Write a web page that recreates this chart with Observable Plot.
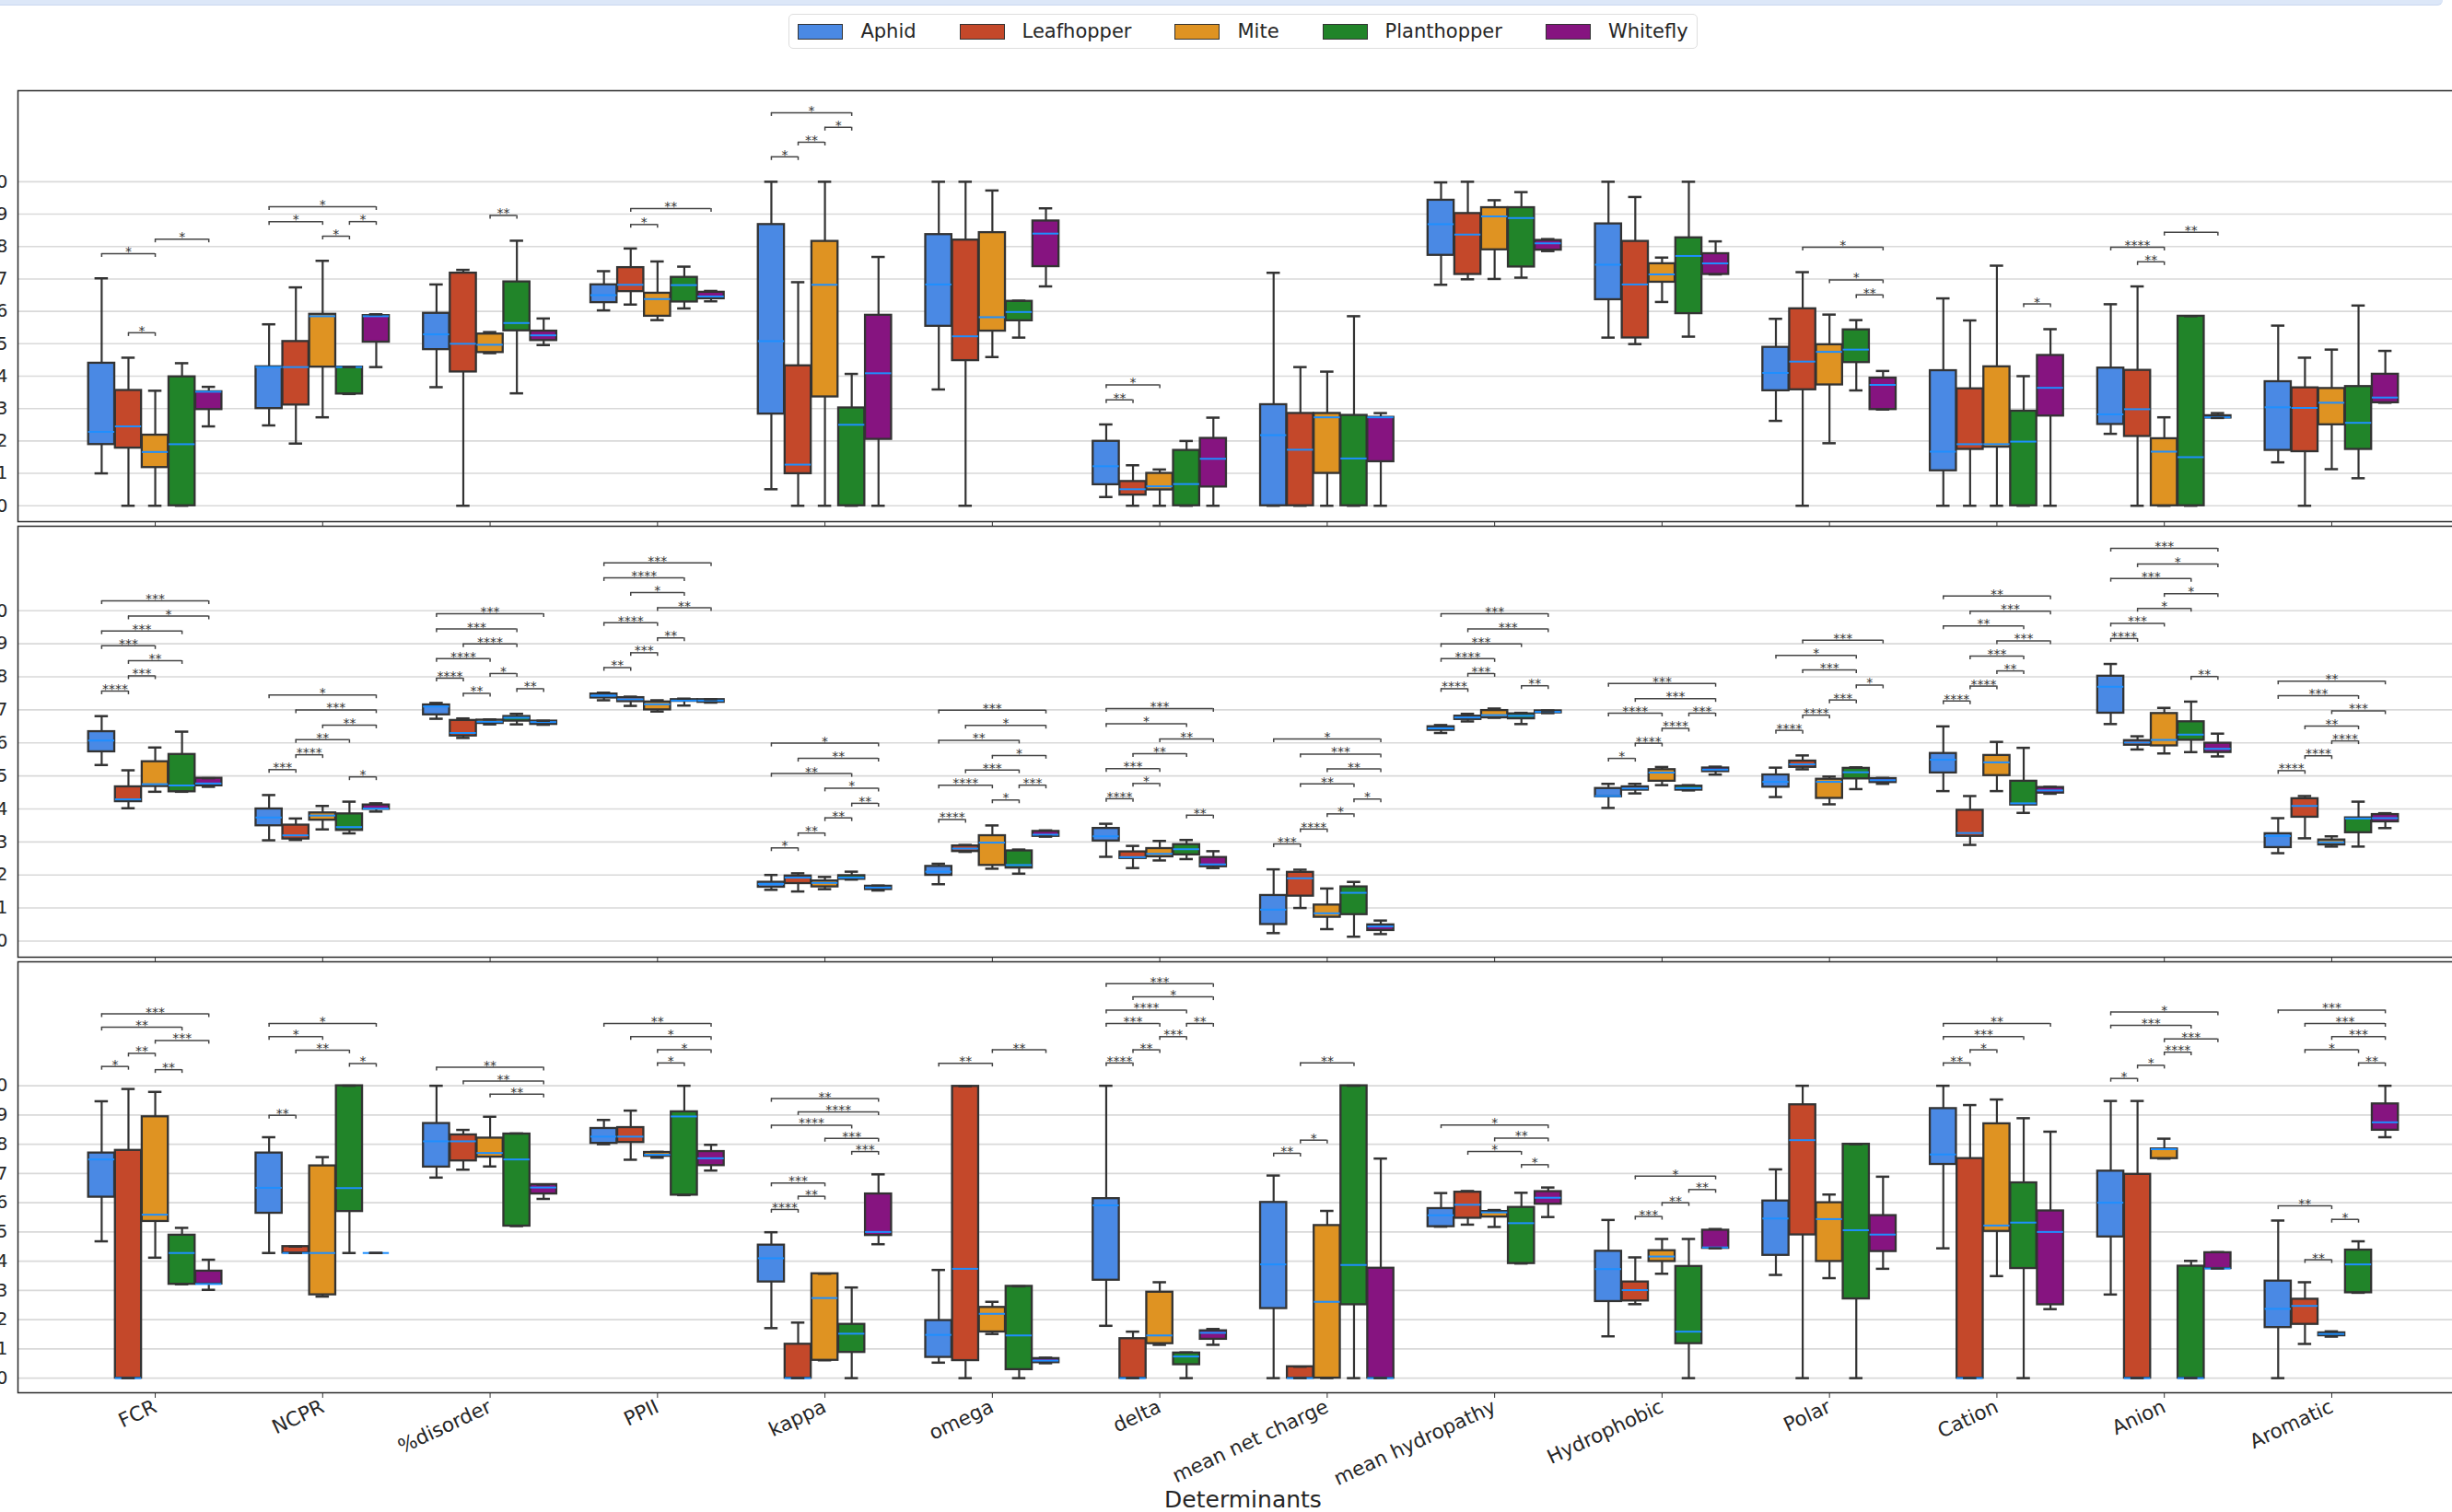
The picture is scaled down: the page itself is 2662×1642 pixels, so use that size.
<!DOCTYPE html>
<html><head><meta charset="utf-8">
<script src="https://cdn.jsdelivr.net/npm/d3@7"></script>
<script src="https://cdn.jsdelivr.net/npm/@observablehq/plot@0.6"></script>
<style>
html,body{margin:0;padding:0;background:#fff;overflow:hidden;}
#page{position:relative;width:2662px;height:1642px;overflow:hidden;background:#fff;font-family:"DejaVu Sans",sans-serif;color:#262626;}
#topbar{position:absolute;left:0;top:0;width:2652px;height:5px;background:#dce7f8;border-bottom:1px solid #c9d7ef;border-bottom-right-radius:10px;}
#legend{position:absolute;top:15px;left:0;width:2699px;display:flex;justify-content:center;}
#legend .box{display:flex;align-items:center;height:36px;padding:0 9px;border:1.5px solid #dedede;border-radius:5px;background:#fff;}
#legend .item{display:flex;align-items:center;margin-right:47px;font-size:21px;line-height:1;}
#legend .item:last-child{margin-right:0;}
#legend .sw{width:47px;height:15px;border:1px solid #333;margin-right:19px;}
.panel{position:absolute;left:0;}
#xlabel{position:absolute;left:0;top:1616px;width:2699px;text-align:center;font-size:25px;line-height:1;color:#262626;}
</style></head>
<body><div id="page"><div id="topbar"></div><div id="legend"></div><div id="xlabel">Determinants</div></div>
<script>
const determinants = ["FCR","NCPR","%disorder","PPII","kappa","omega","delta","mean net charge","mean hydropathy","Hydrophobic","Polar","Cation","Anion","Aromatic"];
const species = ["Aphid","Leafhopper","Mite","Planthopper","Whitefly"];
const speciesCode = {A:0, L:1, M:2, P:3, W:4};
const speciesColors = ["#4a89e4","#c4482a","#df9322","#218429","#861480"];
const yTicks = [0,0.1,0.2,0.3,0.4,0.5,0.6,0.7,0.8,0.9,1.0];

// five-number summaries [whisker low, Q1, median, Q3, whisker high]; per determinant, species order A L M P W
const panel1Stats = [
  [[0.10,0.189,0.228,0.44,0.702],[0,0.178,0.245,0.356,0.457],[0,0.118,0.166,0.218,0.355],[0,0,0.19,0.398,0.44],[0.245,0.297,0.352,0.352,0.367]],
  [[0.248,0.30,0.428,0.429,0.56],[0.192,0.311,0.428,0.507,0.674],[0.273,0.428,0.585,0.591,0.756],[0.345,0.345,0.428,0.428,0.428],[0.428,0.505,0.585,0.587,0.591]],
  [[0.366,0.482,0.529,0.594,0.683],[0,0.413,0.50,0.718,0.728],[0.471,0.473,0.497,0.53,0.536],[0.347,0.54,0.564,0.691,0.818],[0.496,0.51,0.526,0.539,0.578]],
  [[0.603,0.627,0.65,0.682,0.724],[0.621,0.661,0.682,0.735,0.794],[0.573,0.585,0.638,0.656,0.754],[0.609,0.629,0.681,0.705,0.738],[0.631,0.639,0.646,0.659,0.663]],
  [[0.051,0.283,0.508,0.868,1.0],[0,0.099,0.127,0.432,0.69],[0,0.336,0.682,0.816,1.0],[0,0,0.25,0.302,0.407],[0,0.205,0.409,0.588,0.768]],
  [[0.359,0.554,0.683,0.837,1.0],[0,0.448,0.523,0.82,1.0],[0.459,0.539,0.582,0.843,0.973],[0.519,0.571,0.598,0.631,0.633],[0.677,0.738,0.84,0.879,0.918]],
  [[0.027,0.065,0.122,0.199,0.251],[0,0.033,0.051,0.075,0.125],[0,0.049,0.06,0.10,0.112],[0,0,0.067,0.171,0.20],[0,0.058,0.145,0.208,0.272]],
  [[0,0,0.218,0.312,0.719],[0,0,0.173,0.285,0.428],[0,0.10,0.273,0.285,0.414],[0,0,0.146,0.279,0.585],[0,0.136,0.273,0.273,0.286]],
  [[0.682,0.773,0.869,0.943,0.998],[0.699,0.714,0.837,0.902,1.0],[0.70,0.79,0.893,0.92,0.943],[0.704,0.737,0.888,0.92,0.968],[0.786,0.789,0.81,0.819,0.823]],
  [[0.519,0.636,0.744,0.87,1.0],[0.499,0.518,0.683,0.816,0.953],[0.629,0.69,0.714,0.747,0.766],[0.522,0.593,0.771,0.827,1.0],[0.714,0.714,0.748,0.778,0.816]],
  [[0.262,0.355,0.41,0.489,0.577],[0,0.358,0.445,0.608,0.721],[0.193,0.373,0.475,0.497,0.59],[0.356,0.442,0.482,0.543,0.573],[0.297,0.297,0.373,0.394,0.416]],
  [[0,0.108,0.167,0.417,0.64],[0,0.174,0.19,0.361,0.572],[0,0.181,0.19,0.429,0.741],[0,0,0.198,0.292,0.40],[0,0.277,0.364,0.464,0.545]],
  [[0.222,0.251,0.282,0.425,0.622],[0,0.214,0.298,0.418,0.677],[0,0,0.167,0.207,0.273],[0,0,0.15,0.585,0.585],[0.271,0.271,0.273,0.278,0.286]],
  [[0.134,0.171,0.304,0.383,0.556],[0,0.167,0.302,0.364,0.457],[0.113,0.25,0.318,0.362,0.482],[0.085,0.174,0.256,0.368,0.618],[0.318,0.318,0.334,0.406,0.478]]
];
const panel2Stats = [
  [[0.533,0.573,0.607,0.634,0.681],[0.402,0.422,0.429,0.467,0.517],[0.452,0.468,0.475,0.543,0.586],[0.452,0.452,0.471,0.565,0.634],[0.467,0.47,0.477,0.493,0.493]],
  [[0.305,0.349,0.374,0.40,0.442],[0.306,0.309,0.32,0.351,0.371],[0.338,0.366,0.38,0.388,0.409],[0.326,0.335,0.345,0.385,0.422],[0.392,0.399,0.401,0.412,0.417]],
  [[0.673,0.685,0.71,0.715,0.721],[0.615,0.621,0.63,0.668,0.674],[0.656,0.659,0.664,0.669,0.671],[0.656,0.666,0.676,0.68,0.688],[0.655,0.656,0.663,0.666,0.667]],
  [[0.729,0.736,0.743,0.748,0.752],[0.712,0.725,0.732,0.737,0.74],[0.695,0.70,0.717,0.724,0.729],[0.713,0.726,0.728,0.731,0.734],[0.722,0.723,0.728,0.731,0.732]],
  [[0.155,0.163,0.173,0.178,0.20],[0.15,0.174,0.192,0.197,0.205],[0.157,0.164,0.176,0.182,0.194],[0.186,0.187,0.192,0.198,0.21],[0.153,0.156,0.162,0.166,0.168]],
  [[0.172,0.199,0.21,0.226,0.234],[0.27,0.271,0.28,0.288,0.291],[0.219,0.229,0.298,0.319,0.35],[0.204,0.221,0.23,0.273,0.277],[0.316,0.317,0.322,0.332,0.335]],
  [[0.255,0.303,0.317,0.341,0.355],[0.221,0.25,0.254,0.27,0.288],[0.244,0.255,0.264,0.28,0.303],[0.248,0.261,0.278,0.292,0.306],[0.221,0.225,0.232,0.253,0.272]],
  [[0.024,0.05,0.095,0.138,0.217],[0.10,0.136,0.19,0.208,0.216],[0.036,0.072,0.084,0.109,0.159],[0.013,0.08,0.146,0.164,0.179],[0.021,0.032,0.044,0.049,0.062]],
  [[0.63,0.638,0.644,0.649,0.654],[0.665,0.671,0.677,0.681,0.688],[0.676,0.676,0.684,0.698,0.704],[0.657,0.673,0.682,0.688,0.691],[0.690,0.691,0.694,0.697,0.698]],
  [[0.403,0.437,0.439,0.462,0.476],[0.447,0.457,0.462,0.467,0.476],[0.472,0.484,0.51,0.519,0.527],[0.456,0.457,0.463,0.469,0.472],[0.504,0.513,0.519,0.524,0.528]],
  [[0.436,0.466,0.482,0.503,0.525],[0.52,0.526,0.535,0.545,0.562],[0.414,0.432,0.482,0.49,0.498],[0.46,0.491,0.511,0.523,0.526],[0.476,0.48,0.487,0.492,0.494]],
  [[0.454,0.509,0.549,0.568,0.65],[0.291,0.317,0.327,0.396,0.439],[0.454,0.501,0.541,0.562,0.603],[0.388,0.412,0.417,0.484,0.585],[0.446,0.448,0.456,0.465,0.467]],
  [[0.657,0.69,0.77,0.802,0.839],[0.58,0.593,0.601,0.607,0.62],[0.568,0.591,0.609,0.689,0.706],[0.572,0.608,0.625,0.664,0.725],[0.559,0.571,0.582,0.599,0.628]],
  [[0.266,0.283,0.318,0.325,0.372],[0.311,0.375,0.409,0.431,0.439],[0.286,0.291,0.299,0.306,0.317],[0.286,0.328,0.371,0.373,0.422],[0.342,0.361,0.372,0.383,0.387]]
];
const panel3Stats = [
  [[0.468,0.619,0.748,0.77,0.947],[0,0,0,0.779,0.989],[0.412,0.536,0.559,0.894,0.979],[0.321,0.321,0.428,0.489,0.514],[0.302,0.322,0.322,0.366,0.405]],
  [[0.428,0.564,0.651,0.77,0.824],[0.428,0.428,0.428,0.45,0.45],[0.279,0.285,0.428,0.726,0.756],[0.428,0.57,0.65,1.0,1.0],[0.428,0.428,0.428,0.428,0.428]],
  [[0.686,0.722,0.81,0.871,1.0],[0.713,0.743,0.81,0.832,0.849],[0.724,0.756,0.77,0.821,0.894],[0.52,0.52,0.748,0.835,0.837],[0.613,0.63,0.652,0.662,0.662]],
  [[0.80,0.803,0.826,0.854,0.883],[0.747,0.806,0.826,0.857,0.915],[0.754,0.759,0.764,0.772,0.774],[0.626,0.626,0.895,0.911,1.0],[0.71,0.727,0.752,0.775,0.798]],
  [[0.171,0.329,0.41,0.455,0.499],[0,0,0,0.116,0.19],[0.061,0.061,0.274,0.357,0.357],[0,0.088,0.152,0.184,0.31],[0.458,0.488,0.50,0.63,0.697]],
  [[0.053,0.071,0.148,0.197,0.37],[0,0.06,0.374,0.998,0.998],[0.151,0.158,0.22,0.242,0.261],[0,0.029,0.146,0.314,0.314],[0.051,0.053,0.06,0.067,0.07]],
  [[0.179,0.335,0.591,0.614,1.0],[0,0,0,0.135,0.159],[0.114,0.118,0.146,0.294,0.328],[0,0.046,0.074,0.086,0.088],[0.114,0.133,0.155,0.162,0.168]],
  [[0,0.238,0.389,0.601,0.693],[0,0,0,0.039,0.039],[0,0,0.261,0.522,0.572],[0,0.251,0.387,1.0,1.0],[0,0,0,0.376,0.751]],
  [[0.518,0.518,0.557,0.58,0.633],[0.525,0.547,0.593,0.636,0.64],[0.517,0.551,0.567,0.57,0.575],[0.392,0.392,0.53,0.584,0.634],[0.551,0.595,0.617,0.638,0.652]],
  [[0.143,0.262,0.373,0.434,0.541],[0.253,0.264,0.301,0.329,0.413],[0.357,0.399,0.416,0.436,0.476],[0,0.118,0.159,0.382,0.476],[0.444,0.444,0.447,0.506,0.51]],
  [[0.353,0.42,0.546,0.606,0.714],[0,0.49,0.814,0.935,1.0],[0.342,0.399,0.544,0.60,0.628],[0,0.271,0.506,0.80,0.80],[0.374,0.433,0.491,0.556,0.689]],
  [[0.444,0.731,0.765,0.922,1.0],[0,0,0,0.751,0.934],[0.349,0.502,0.522,0.87,0.953],[0,0.375,0.532,0.668,0.889],[0.236,0.251,0.50,0.572,0.843]],
  [[0.286,0.483,0.60,0.708,0.948],[0,0,0,0.697,0.948],[0.751,0.751,0.783,0.784,0.819],[0,0,0,0.383,0.401],[0.375,0.375,0.375,0.429,0.431]],
  [[0,0.173,0.237,0.332,0.539],[0.117,0.184,0.247,0.27,0.328],[0.142,0.145,0.151,0.155,0.16],[0.292,0.292,0.389,0.438,0.468],[0.824,0.848,0.875,0.938,1.0]]
];

// significance brackets: [determinant, from species, to species, height, label]
const panel1Brackets = [
  ["FCR","A","M",0.778,"*"],["FCR","M","W",0.823,"*"],["FCR","L","M",0.534,"*"],
  ["NCPR","A","W",0.923,"*"],["NCPR","A","M",0.877,"*"],["NCPR","P","W",0.877,"*"],["NCPR","M","P",0.832,"*"],
  ["%disorder","M","P",0.896,"**"],
  ["PPII","L","W",0.917,"**"],["PPII","L","M",0.868,"*"],
  ["kappa","A","P",1.213,"*"],["kappa","M","P",1.168,"*"],["kappa","L","M",1.122,"**"],["kappa","A","L",1.077,"*"],
  ["delta","A","M",0.373,"*"],["delta","A","L",0.327,"**"],
  ["Polar","L","W",0.798,"*"],["Polar","M","W",0.697,"*"],["Polar","P","W",0.651,"**"],
  ["Cation","P","W",0.623,"*"],
  ["Anion","A","M",0.798,"****"],["Anion","L","M",0.753,"**"],["Anion","M","W",0.844,"**"]
];
const panel2Brackets = [
  ["FCR","A","W",1.03,"***"],["FCR","L","W",0.984,"*"],["FCR","A","P",0.939,"***"],["FCR","A","M",0.894,"***"],["FCR","L","P",0.849,"**"],["FCR","L","M",0.803,"***"],["FCR","A","L",0.757,"****"],
  ["NCPR","A","W",0.745,"*"],["NCPR","L","W",0.70,"***"],["NCPR","M","W",0.654,"**"],["NCPR","L","P",0.61,"**"],["NCPR","L","M",0.564,"****"],["NCPR","A","L",0.519,"***"],["NCPR","P","W",0.497,"*"],
  ["%disorder","A","W",0.991,"***"],["%disorder","A","P",0.945,"***"],["%disorder","L","P",0.90,"****"],["%disorder","A","M",0.855,"****"],["%disorder","M","P",0.81,"*"],["%disorder","A","L",0.796,"****"],["%disorder","P","W",0.764,"**"],["%disorder","L","M",0.75,"**"],
  ["PPII","A","W",1.145,"***"],["PPII","A","P",1.10,"****"],["PPII","L","P",1.055,"*"],["PPII","M","W",1.009,"**"],["PPII","A","M",0.964,"****"],["PPII","M","P",0.918,"**"],["PPII","L","M",0.873,"***"],["PPII","A","L",0.828,"**"],
  ["kappa","A","W",0.599,"*"],["kappa","L","W",0.553,"**"],["kappa","A","P",0.507,"**"],["kappa","M","W",0.463,"*"],["kappa","P","W",0.417,"**"],["kappa","M","P",0.373,"**"],["kappa","L","M",0.327,"**"],["kappa","A","L",0.282,"*"],
  ["omega","A","W",0.699,"***"],["omega","L","W",0.653,"*"],["omega","A","P",0.608,"**"],["omega","M","W",0.562,"*"],["omega","L","P",0.518,"***"],["omega","A","M",0.472,"****"],["omega","P","W",0.472,"***"],["omega","M","P",0.427,"*"],["omega","A","L",0.368,"****"],
  ["delta","A","W",0.704,"***"],["delta","A","P",0.658,"*"],["delta","M","W",0.612,"**"],["delta","L","P",0.567,"**"],["delta","A","M",0.522,"***"],["delta","L","M",0.477,"*"],["delta","A","L",0.431,"****"],["delta","P","W",0.381,"**"],
  ["mean net charge","A","W",0.612,"*"],["mean net charge","L","W",0.566,"***"],["mean net charge","M","W",0.521,"**"],["mean net charge","L","P",0.476,"**"],["mean net charge","P","W",0.43,"*"],["mean net charge","M","P",0.385,"*"],["mean net charge","L","M",0.339,"****"],["mean net charge","A","L",0.294,"***"],
  ["mean hydropathy","A","W",0.991,"***"],["mean hydropathy","L","W",0.945,"***"],["mean hydropathy","A","P",0.90,"***"],["mean hydropathy","A","M",0.855,"****"],["mean hydropathy","L","M",0.81,"***"],["mean hydropathy","P","W",0.773,"**"],["mean hydropathy","A","L",0.764,"****"],
  ["Hydrophobic","A","W",0.78,"***"],["Hydrophobic","L","W",0.734,"***"],["Hydrophobic","A","M",0.69,"****"],["Hydrophobic","P","W",0.69,"***"],["Hydrophobic","M","P",0.644,"****"],["Hydrophobic","L","M",0.599,"****"],["Hydrophobic","A","L",0.553,"*"],
  ["Polar","L","W",0.911,"***"],["Polar","A","P",0.865,"*"],["Polar","L","P",0.821,"***"],["Polar","P","W",0.775,"*"],["Polar","M","P",0.73,"***"],["Polar","L","M",0.684,"****"],["Polar","A","L",0.638,"****"],
  ["Cation","A","W",1.045,"**"],["Cation","L","W",0.999,"***"],["Cation","A","P",0.954,"**"],["Cation","M","W",0.909,"***"],["Cation","L","P",0.863,"***"],["Cation","M","P",0.818,"**"],["Cation","L","M",0.772,"****"],["Cation","A","L",0.727,"****"],
  ["Anion","A","W",1.189,"***"],["Anion","L","W",1.142,"*"],["Anion","A","P",1.098,"***"],["Anion","M","W",1.052,"*"],["Anion","L","P",1.007,"*"],["Anion","A","M",0.962,"***"],["Anion","A","L",0.916,"****"],["Anion","P","W",0.801,"**"],
  ["Aromatic","A","W",0.787,"**"],["Aromatic","A","P",0.743,"***"],["Aromatic","M","W",0.697,"***"],["Aromatic","L","P",0.651,"**"],["Aromatic","M","P",0.606,"****"],["Aromatic","L","M",0.561,"****"],["Aromatic","A","L",0.516,"****"]
];
const panel3Brackets = [
  ["FCR","A","W",1.246,"***"],["FCR","A","P",1.20,"**"],["FCR","M","W",1.155,"***"],["FCR","L","M",1.111,"**"],["FCR","A","L",1.066,"*"],["FCR","M","P",1.055,"**"],
  ["NCPR","A","W",1.213,"*"],["NCPR","A","M",1.168,"*"],["NCPR","L","P",1.122,"**"],["NCPR","P","W",1.076,"*"],["NCPR","A","L",0.899,"**"],
  ["%disorder","A","W",1.063,"**"],["%disorder","L","W",1.016,"**"],["%disorder","M","W",0.971,"**"],
  ["PPII","A","W",1.213,"**"],["PPII","L","W",1.168,"*"],["PPII","M","W",1.123,"*"],["PPII","M","P",1.078,"*"],
  ["kappa","A","W",0.956,"**"],["kappa","L","W",0.911,"****"],["kappa","A","P",0.865,"****"],["kappa","M","W",0.82,"***"],["kappa","P","W",0.775,"***"],["kappa","A","M",0.667,"***"],["kappa","L","M",0.622,"**"],["kappa","A","L",0.577,"****"],
  ["omega","M","W",1.123,"**"],["omega","A","M",1.077,"**"],
  ["delta","A","W",1.349,"***"],["delta","L","W",1.304,"*"],["delta","A","P",1.259,"****"],["delta","A","M",1.213,"***"],["delta","P","W",1.213,"**"],["delta","M","P",1.168,"***"],["delta","L","M",1.123,"**"],["delta","A","L",1.078,"****"],
  ["mean net charge","L","P",1.078,"**"],["mean net charge","L","M",0.814,"*"],["mean net charge","A","L",0.769,"**"],
  ["mean hydropathy","A","W",0.866,"*"],["mean hydropathy","M","W",0.821,"**"],["mean hydropathy","L","P",0.775,"*"],["mean hydropathy","P","W",0.73,"*"],
  ["Hydrophobic","L","W",0.691,"*"],["Hydrophobic","P","W",0.645,"**"],["Hydrophobic","M","P",0.60,"**"],["Hydrophobic","L","M",0.553,"***"],
  ["Cation","A","W",1.213,"**"],["Cation","A","P",1.168,"***"],["Cation","L","M",1.123,"*"],["Cation","A","L",1.078,"**"],
  ["Anion","A","W",1.252,"*"],["Anion","A","P",1.207,"***"],["Anion","M","W",1.16,"***"],["Anion","M","P",1.115,"****"],["Anion","L","M",1.07,"*"],["Anion","A","L",1.025,"*"],
  ["Aromatic","A","W",1.259,"***"],["Aromatic","L","W",1.213,"***"],["Aromatic","M","W",1.168,"***"],["Aromatic","L","P",1.123,"*"],["Aromatic","P","W",1.078,"**"],["Aromatic","A","M",0.589,"**"],["Aromatic","M","P",0.543,"*"],["Aromatic","L","M",0.405,"**"]
];

const panel1Domain = [-0.049, 1.281];
const panel2Domain = [-0.049, 1.256];
const panel3Domain = [-0.05, 1.424];

// ---- layout (not data) ----
const offsets = [-0.32,-0.16,0,0.16,0.32];
const halfBox = 0.078, halfCap = 0.04;
const frameH = 468;

function boxRows(stats){
  const rows = [];
  stats.forEach((grp, i) => grp.forEach((s, j) => rows.push({
    x: i + offsets[j], species: species[j], lo: s[0], q1: s[1], med: s[2], q3: s[3], hi: s[4]
  })));
  return rows;
}
function bracketRows(list){
  return list.map(([d, a, b, y, label]) => {
    const i = determinants.indexOf(d);
    return {x1: i + offsets[speciesCode[a]], x2: i + offsets[speciesCode[b]], y, label};
  });
}

function makePanel(stats, brackets, yDomain, last){
  const rows = boxRows(stats), br = bracketRows(brackets);
  const mt = 2, mb = last ? 120 : 8;
  const tickLen = 4 * (yDomain[1] - yDomain[0]) / frameH;
  const dark = "#333333";
  return Plot.plot({
    width: 2700, height: frameH + mt + mb,
    marginLeft: 19, marginRight: 20, marginTop: mt, marginBottom: mb,
    style: {fontFamily: "DejaVu Sans, sans-serif", fontSize: "19.5px", color: "#262626", background: "transparent", overflow: "visible", maxWidth: "none"},
    x: {domain: [-0.82, 13.82], axis: null},
    y: {domain: yDomain, axis: null},
    color: {domain: species, range: speciesColors},
    marks: [
      Plot.ruleY(yTicks, {stroke: "#d9d9d9", strokeWidth: 1.6}),
      Plot.axisY({ticks: yTicks, tickSize: 0, tickPadding: 11, tickFormat: d3.format(".1f"), fontSize: 19.5}),
      Plot.ruleX(rows, {x: "x", y1: "lo", y2: "q1", stroke: dark, strokeWidth: 2.2}),
      Plot.ruleX(rows, {x: "x", y1: "q3", y2: "hi", stroke: dark, strokeWidth: 2.2}),
      Plot.rect(rows, {x1: d => d.x - halfBox, x2: d => d.x + halfBox, y1: "q1", y2: "q3", fill: "species", stroke: dark, strokeWidth: 2.3}),
      Plot.ruleY(rows, {y: "med", x1: d => d.x - halfBox, x2: d => d.x + halfBox, stroke: "#1e8fff", strokeWidth: 2}),
      Plot.ruleY(rows, {y: "lo", x1: d => d.x - halfCap, x2: d => d.x + halfCap, stroke: dark, strokeWidth: 2.5}),
      Plot.ruleY(rows, {y: "hi", x1: d => d.x - halfCap, x2: d => d.x + halfCap, stroke: dark, strokeWidth: 2.5}),
      Plot.ruleY(br, {y: "y", x1: "x1", x2: "x2", stroke: "#444", strokeWidth: 1.5}),
      Plot.ruleX(br, {x: "x1", y1: "y", y2: d => d.y - tickLen, stroke: "#444", strokeWidth: 1.5}),
      Plot.ruleX(br, {x: "x2", y1: "y", y2: d => d.y - tickLen, stroke: "#444", strokeWidth: 1.5}),
      Plot.text(br, {x: d => (d.x1 + d.x2) / 2, y: "y", text: "label", fontSize: 14, dy: -2, fill: "#333"}),
      Plot.frame({stroke: "#2b2b2b", strokeWidth: 1.5}),
      last
        ? Plot.axisX({ticks: d3.range(determinants.length), tickSize: 6, tickPadding: 8, tickRotate: -25, fontSize: 21.5, tickFormat: i => determinants[i], stroke: dark})
        : Plot.axisX({ticks: d3.range(determinants.length), tickSize: 6, tickFormat: () => "", stroke: dark})
    ]
  });
}

const page = document.getElementById("page");
[[panel1Stats, panel1Brackets, panel1Domain, false, 96],
 [panel2Stats, panel2Brackets, panel2Domain, false, 569],
 [panel3Stats, panel3Brackets, panel3Domain, true, 1042]].forEach(([s, b, dom, last, top]) => {
  const svg = makePanel(s, b, dom, last);
  const wrap = document.createElement("div");
  wrap.className = "panel";
  wrap.style.top = top + "px";
  wrap.appendChild(svg);
  page.appendChild(wrap);
});

// legend
const legBox = document.createElement("div");
legBox.className = "box";
species.forEach((name, i) => {
  const it = document.createElement("div"); it.className = "item";
  const sw = document.createElement("div"); sw.className = "sw"; sw.style.background = speciesColors[i];
  const tx = document.createElement("span"); tx.textContent = name;
  it.appendChild(sw); it.appendChild(tx); legBox.appendChild(it);
});
document.getElementById("legend").appendChild(legBox);
</script>
</body></html>
